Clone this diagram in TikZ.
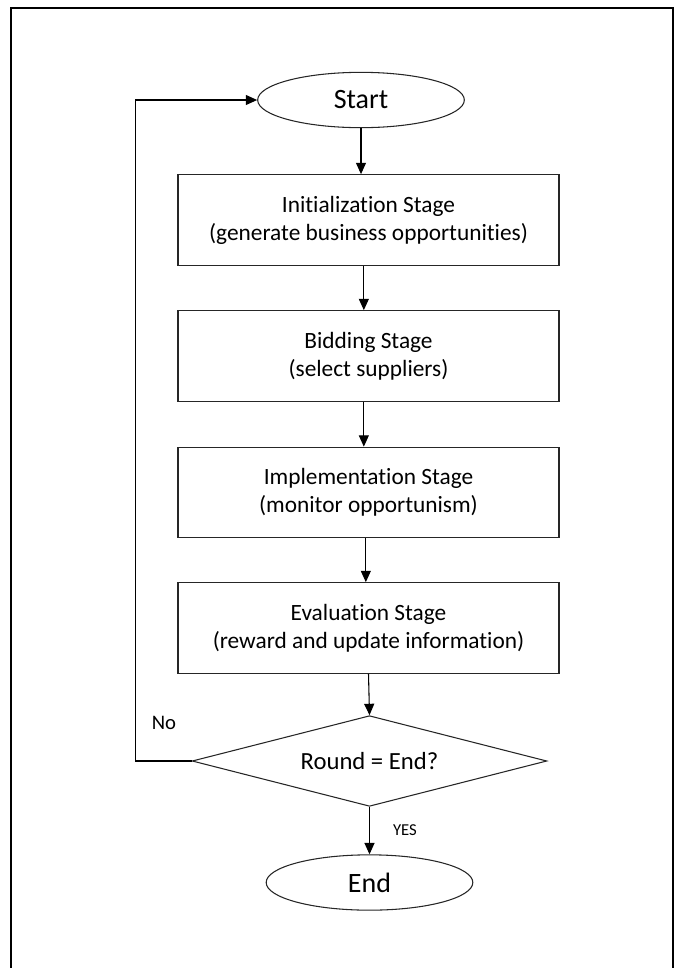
\documentclass[tikz,border=0pt]{standalone}
\usepackage{fontspec}
\setmainfont{Carlito}[Ligatures=NoCommon]
\usetikzlibrary{shapes.geometric,arrows.meta}
\begin{document}
\begin{tikzpicture}[x=0.75pt,y=-0.75pt,
  line width=0.8pt,
  stagebox/.style={draw=black!85, rectangle, inner sep=0pt, minimum width=285.75pt,
    minimum height=68pt, align=center, font=\fontsize{17.5pt}{21pt}\selectfont},
  terminal/.style={draw=black!85, ellipse, inner sep=0pt, minimum width=155pt,
    minimum height=41.5pt, font=\fontsize{21pt}{25pt}\selectfont},
  decision/.style={draw=black!85, diamond, shape aspect=3.9, inner sep=0pt,
    minimum width=266pt, minimum height=68pt, font=\fontsize{18.5pt}{22pt}\selectfont},
  flow/.style={-{Triangle[length=8.5pt,width=7.5pt]}},
  tag/.style={inner sep=0pt}]
  \useasboundingbox (0,0) rectangle (683,968);
  % frame around the chart
  \draw[line width=1.6pt] (11,1000) -- (11,8) -- (673,8) -- (673,1000);

  \node[terminal] (start) at (361,100) {Start};
  \node[stagebox] (init) at (368.5,220) {Initialization Stage\\(generate business opportunities)};
  \node[stagebox] (bid) at (368.5,356) {Bidding Stage\\(select suppliers)};
  \node[stagebox] (impl) at (368.5,492.5) {Implementation Stage\\(monitor opportunism)};
  \node[stagebox] (eval) at (368.5,628) {Evaluation Stage\\(reward and update information)};
  \node[decision] (dec) at (369.5,761) {Round = End?};
  \node[terminal] (stop) at (369.5,882.5) {End};

  \draw[flow] (start.south) -- (start.south |- init.north);
  \draw[flow] ([xshift=-3.5pt]init.south) -- ([xshift=-3.5pt]bid.north);
  \draw[flow] ([xshift=-3.5pt]bid.south) -- ([xshift=-3.5pt]impl.north);
  \draw[flow] ([xshift=-2pt]impl.south) -- ([xshift=-2pt]eval.north);
  \draw[flow] (eval.south) -- (dec.north);
  \draw[flow] (dec.south) -- (stop.north);
  \draw[flow] (dec.west) -- ++(-56,0) |- (start.west);

  \node[tag, font=\fontsize{15.5pt}{18pt}\selectfont] (no) at (164,723) {No};
  \node[tag, font=\fontsize{12.5pt}{15pt}\selectfont] (yes) at (405,830) {YES};
\end{tikzpicture}
\end{document}
